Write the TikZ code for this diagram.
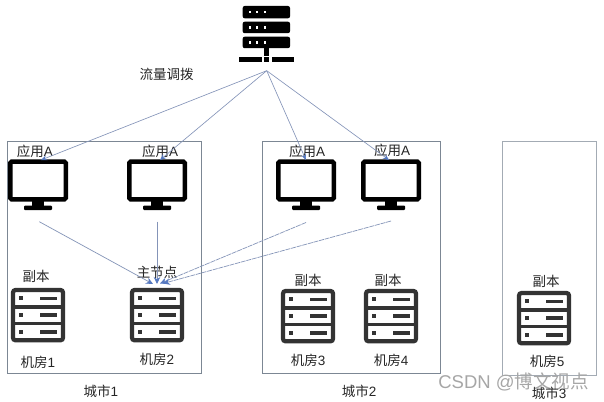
\documentclass[tikz,border=0pt]{standalone}
\usepackage{fontspec}
\setmainfont{Liberation Sans}
\newfontfamily\cjk{Noto Sans CJK SC}
\usetikzlibrary{arrows.meta}
\definecolor{linkblue}{HTML}{8494B8}
\definecolor{tipblue}{HTML}{5578C0}
\definecolor{framecol}{HTML}{7C8794}
\definecolor{darkicon}{HTML}{333333}
\tikzset{
  frame/.style={draw=framecol,line width=0.7pt,fill=white,outer sep=0pt,inner sep=0pt,anchor=north west},
  link/.style={draw=linkblue,line width=0.65pt,-{Stealth[length=6pt,width=5pt,color=tipblue]}},
  mainlink/.style={draw=linkblue,line width=0.7pt,-{Stealth[length=7pt,width=6.5pt,color=tipblue]}},
  lab/.style={font=\fontsize{13.5}{14}\selectfont,text=black!85,inner sep=0pt},
  anchorpt/.style={inner sep=0pt,minimum size=0pt,outer sep=0pt}
}
\newcommand{\monitor}[3]{% centre x, top y, name
  \node[anchorpt] (#3) at (#1,#2) {};
  \draw[black,line width=4.5pt,rounded corners=1.5pt] (#1-27.75,#2+1.6) rectangle (#1+27.75,#2+39.4);
  \fill[black] (#1-6,#2+41) rectangle (#1+6,#2+47);
  \fill[black,rounded corners=1pt] (#1-14,#2+45.5) rectangle (#1+14,#2+50);
}
\newcommand{\rack}[2]{% centre x, top y
  \draw[darkicon,line width=4.2pt,rounded corners=2.5pt,fill=white] (#1-25,#2+2) rectangle (#1+25,#2+52.3);
  \draw[darkicon,line width=3.6pt] (#1-25,#2+18.7) -- (#1+25,#2+18.7) (#1-25,#2+35.3) -- (#1+25,#2+35.3);
  \foreach \dy in {10.3,27,44}{
    \fill[darkicon] (#1-19,#2+\dy-2) rectangle (#1-15,#2+\dy+2);
    \fill[darkicon] (#1+2,#2+\dy-1.7) rectangle (#1+18.7,#2+\dy+1.7);
  }
}
\begin{document}
\begin{tikzpicture}[x=1pt,y=-1pt]
\useasboundingbox (0,0) rectangle (604,401);
% city frames
\node[frame,minimum width=193.5pt,minimum height=231.5pt] (city1) at (7.5,141.5) {};
\node[frame,minimum width=178pt,minimum height=231.5pt] (city2) at (262,141.5) {};
\node[frame,draw=framecol!70,minimum width=94.5pt,minimum height=233.5pt] (city3) at (502,141.5) {};
% watermark, behind the labels
\node[font=\fontsize{18.5}{19}\selectfont,text=black!35,inner sep=0pt] (wm) at (513.5,382) {CSDN @{\cjk 博文视点}};
% top server
\foreach \y/\h in {6/12.3,21.7/11.5,36.7/11.5}{
  \fill[black,rounded corners=2pt] (242.7,\y) rectangle (290,\y+\h);
  \foreach \x in {250,257,265} \fill[white] (\x-1.2,\y+4.8) rectangle (\x+1.2,\y+7.2);
}
\fill[black] (264.2,47) rectangle (268.7,56);
\fill[black] (239.3,57.3) rectangle (261.7,62);
\fill[black] (264.3,57.3) rectangle (268.7,62);
\fill[black] (271.7,57.3) rectangle (293.7,62);
\coordinate (hub) at (266.7,70.7);
% monitors
\monitor{38}{160}{m1}
\monitor{157}{160}{m2}
\monitor{306}{160}{m3}
\monitor{391}{160}{m4}
% racks
\rack{38}{288}
\rack{157}{288}
\rack{308}{289}
\rack{391}{289}
\rack{544}{291}
% labels
\node[lab] (tl) at (166.5,74) {\cjk 流量调拨};
\node[lab] (a1) at (35,151) {{\cjk 应用}A};
\node[lab] (a2) at (160,151) {{\cjk 应用}A};
\node[lab] (a3) at (307,151) {{\cjk 应用}A};
\node[lab] (a4) at (392,150) {{\cjk 应用}A};
\node[lab] (c1) at (36,276) {\cjk 副本};
\node[lab] (zhu) at (157,272) {\cjk 主节点};
\node[lab] (c3) at (308,280) {\cjk 副本};
\node[lab] (c4) at (388,280) {\cjk 副本};
\node[lab] (c5) at (546,281) {\cjk 副本};
\node[lab] (r1) at (38,362) {{\cjk 机房}1};
\node[lab] (r2) at (157,359) {{\cjk 机房}2};
\node[lab] (r3) at (308,360) {{\cjk 机房}3};
\node[lab] (r4) at (391,360) {{\cjk 机房}4};
\node[lab] (r5) at (547,361) {{\cjk 机房}5};
\node[lab] (s1) at (101,391) {{\cjk 城市}1};
\node[lab] (s2) at (359,391) {{\cjk 城市}2};
\node[lab] (s3) at (549,393) {{\cjk 城市}3};
% connectors
\coordinate (t1) at (41,160);
\coordinate (t2) at (160,160);
\coordinate (t3) at (306,160);
\coordinate (t4) at (389,160);
\coordinate (f1) at (39.3,221.7);
\coordinate (f2) at (157,221.7);
\coordinate (f3) at (306,222.5);
\coordinate (f4) at (391,221);
\coordinate (e1) at (153,284);
\coordinate (e2) at (157,284);
\coordinate (e3) at (160,283.5);
\coordinate (e4) at (163,283.5);
\draw[link] (hub) -- (t1);
\draw[link] (hub) -- (t2);
\draw[link] (hub) -- (t3);
\draw[link] (hub) -- (t4);
\draw[mainlink] (f1) -- (e1);
\draw[mainlink] (f2) -- (e2);
\draw[mainlink,dash pattern=on 5pt off 0.8pt] (f3) -- (e3);
\draw[mainlink,dash pattern=on 5pt off 0.8pt] (f4) -- (e4);
\end{tikzpicture}
\end{document}
